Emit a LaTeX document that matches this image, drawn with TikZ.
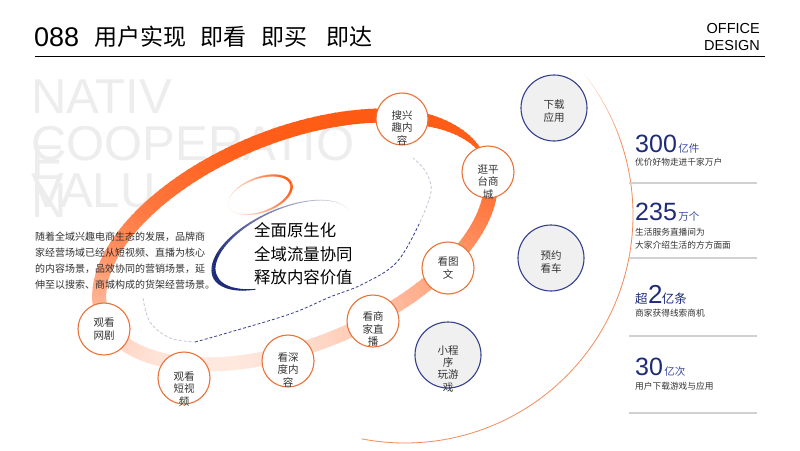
\documentclass[tikz,border=0pt]{standalone}
\usepackage{fontspec}
\setmainfont{Liberation Sans}
\newfontfamily\cjk{Noto Sans CJK SC}
\newfontfamily\arial{Liberation Sans}
\definecolor{bandc}{HTML}{FF5A14}
\definecolor{navy}{HTML}{1E2B7A}
\definecolor{navylt}{HTML}{3B4A9B}
\definecolor{nodeor}{HTML}{E8733A}
\definecolor{circblue}{HTML}{34408C}
\definecolor{wmc}{HTML}{EDEDED}
\definecolor{txt}{HTML}{333333}
\definecolor{arcor}{HTML}{F08A58}
\definecolor{dashgray}{HTML}{C2C6D6}
\definecolor{circfill}{HTML}{F0F0F0}
\tikzset{
  wmtext/.style={anchor=base west, inner sep=0, text=wmc, font=\arial\fontsize{49}{49}\selectfont},
  onode/.style={circle, draw=nodeor, line width=1.1pt, fill=white, minimum size=52pt, inner sep=0},
  bnode/.style={circle, draw=circblue, line width=1.1pt, fill=circfill, minimum size=66pt, inner sep=0},
  ntext/.style={font=\cjk\fontsize{10.5}{12.2}\selectfont, text=txt, align=center, inner sep=0},
  bignum/.style={anchor=base west, inner sep=0, text=navy, font=\arial\fontsize{25}{25}\selectfont},
  unit/.style={anchor=base west, inner sep=0, text=navylt, font=\cjk\fontsize{10.5}{12}\selectfont},
  desc/.style={anchor=base west, inner sep=0, text=txt, font=\cjk\fontsize{8.7}{12}\selectfont},
  sepline/.style={line width=1.5pt, draw=black!18},
}
\begin{document}
\begin{tikzpicture}[x=1pt,y=-1pt]
\useasboundingbox (0,0) rectangle (800,450);
\fill[white] (0,0) rectangle (800,450);

% watermark
\node[wmtext] (w1) at (31,113) {NATIV};
\node[wmtext] (w2) at (31,160) {COOPERATIO};
\node[wmtext] (w3) at (31,207) {VALU};
\node[wmtext] (w4) at (31,179) {E};
\node[wmtext] (w5) at (31,217) {N};

% big thin arc on the right
\begin{scope}
\clip (0,0) rectangle (800,450);
\foreach \a in {40,39,...,-100}{
  \pgfmathsetmacro{\xa}{405+228*cos(\a)}
  \pgfmathsetmacro{\ya}{215-228*sin(\a)}
  \pgfmathsetmacro{\xb}{405+228*cos(\a-1)}
  \pgfmathsetmacro{\yb}{215-228*sin(\a-1)}
  \pgfmathsetmacro{\op}{\a>=18 ? (40-\a)/22 : 1}
  \draw[line width=0.8pt, arcor, opacity=\op] (\xa,\ya) -- (\xb,\yb);
}
\end{scope}

% thick band (rotated ellipse)
\foreach \t in {0,2,...,358}{
  \pgfmathsetmacro{\xa}{295+207*cos(\t)*0.927-105*sin(\t)*0.375}
  \pgfmathsetmacro{\ya}{240-207*cos(\t)*0.375-105*sin(\t)*0.927}
  \pgfmathsetmacro{\tb}{\t+2.6}
  \pgfmathsetmacro{\xb}{295+207*cos(\tb)*0.927-105*sin(\tb)*0.375}
  \pgfmathsetmacro{\yb}{240-207*cos(\tb)*0.375-105*sin(\tb)*0.927}
  \pgfmathsetmacro{\sv}{max(0,min(1,(\ya-120)/245))}
  \pgfmathtruncatemacro{\pc}{100-86*\sv*sqrt(\sv)}
  \pgfmathsetmacro{\lw}{(\t>=6 && \t<=40) ? (3+11*(\t-6)/34) : 14}
  \draw[line width=\lw pt, bandc!\pc!white] (\xa,\ya) -- (\xb,\yb);
}

% dashed inner curve
\draw[dashgray, line width=0.8pt, dash pattern=on 3pt off 2pt]
  plot[smooth, tension=0.6] coordinates {(143,298) (150,322) (170,338) (195,342)};
\draw[circblue, line width=0.8pt, dash pattern=on 3pt off 2pt]
  plot[smooth, tension=0.6] coordinates {(195,342) (227,333) (290,314) (330,297) (363,284) (397,262) (420,222)};
\draw[dashgray, line width=0.8pt, dash pattern=on 3pt off 2pt]
  plot[smooth, tension=0.6] coordinates {(420,222) (431,192) (426,172) (413,158)};

% small orange swoosh ring
\foreach \t in {0,3,...,357}{
  \pgfmathsetmacro{\xa}{260+33*cos(\t)*0.94-17*sin(\t)*0.342}
  \pgfmathsetmacro{\ya}{195-33*cos(\t)*0.342-17*sin(\t)*0.94}
  \pgfmathsetmacro{\tb}{\t+3.5}
  \pgfmathsetmacro{\xb}{260+33*cos(\tb)*0.94-17*sin(\tb)*0.342}
  \pgfmathsetmacro{\yb}{195-33*cos(\tb)*0.342-17*sin(\tb)*0.94}
  \pgfmathsetmacro{\inten}{0.5+0.5*cos(\t)}
  \pgfmathtruncatemacro{\pc}{5+95*\inten}
  \pgfmathsetmacro{\lw}{0.5+2*\inten}
  \draw[line width=\lw pt, bandc!\pc!white] (\xa,\ya) -- (\xb,\yb);
}

% blue swoosh
\foreach \t in {0,3,...,232}{
  \pgfmathsetmacro{\xa}{283+75*cos(\t)*0.906-35*sin(\t)*0.423}
  \pgfmathsetmacro{\ya}{245-75*cos(\t)*0.423-35*sin(\t)*0.906}
  \pgfmathsetmacro{\tb}{\t+3.5}
  \pgfmathsetmacro{\xb}{283+75*cos(\tb)*0.906-35*sin(\tb)*0.423}
  \pgfmathsetmacro{\yb}{245-75*cos(\tb)*0.423-35*sin(\tb)*0.906}
  \pgfmathtruncatemacro{\pc}{min(100,\t/1.5)}
  \pgfmathsetmacro{\lw}{\t<=180 ? (0.4+4.2*(\t/180)*(\t/180)) : (0.6+4*(235-\t)/55)}
  \draw[line width=\lw pt, navy!\pc!white] (\xa,\ya) -- (\xb,\yb);
}

% center text
\node[anchor=west, align=left, font=\cjk\fontsize{16.4}{23.5}\selectfont, inner sep=0] (ctext) at (254,254) {全面原生化\\全域流量协同\\释放内容价值};

% left paragraph
\node[anchor=west, align=left, font=\cjk\fontsize{10}{16}\selectfont, text=txt, inner sep=0] (para) at (35,261) {随着全域兴趣电商生态的发展，品牌商\\家经营场域已经从短视频、直播为核心\\的内容场景，品效协同的营销场景，延\\伸至以搜索、商城构成的货架经营场景。};

% orange nodes
\node[onode] (n1) at (402,119) {};
\node[ntext] (l1) at ([yshift=-9pt]n1.center) {搜兴\\趣内\\容};
\node[onode] (n2) at (488,172) {};
\node[ntext] (l2) at ([yshift=-10pt]n2.center) {逛平\\台商\\城};
\node[onode] (n3) at (448,268) {};
\node[ntext] (l3) at (n3.center) {看图\\文};
\node[onode] (n4) at (373,321) {};
\node[ntext] (l4) at ([yshift=-8pt]n4.center) {看商\\家直\\播};
\node[onode] (n5) at (288,361) {};
\node[ntext] (l5) at ([yshift=-9pt]n5.center) {看深\\度内\\容};
\node[onode] (n6) at (184,378) {};
\node[ntext] (l6) at ([yshift=-11pt]n6.center) {观看\\短视\\频};
\node[onode] (n7) at (104,329) {};
\node[ntext] (l7) at (n7.center) {观看\\网剧};

% blue nodes
\node[bnode] (b1) at (554,108) {};
\node[ntext] (k1) at ([yshift=-3pt]b1.center) {下载\\应用};
\node[bnode] (b2) at (551,258) {};
\node[ntext] (k2) at ([yshift=-4pt]b2.center) {预约\\看车};
\node[bnode] (b3) at (448,355) {};
\node[ntext] (k3) at ([yshift=-14pt]b3.center) {小程\\序\\玩游\\戏};

% right stats
\node[bignum] (s1) at (635,152) {300};
\node[unit] (u1) at ([xshift=1pt]s1.base east) {亿件};
\node[desc] (d1) at (635,165) {优价好物走进千家万户};
\draw[sepline] (629,183) -- (757,183);

\node[bignum] (s2) at (635,220) {235};
\node[unit] (u2) at ([xshift=1pt]s2.base east) {万个};
\node[desc] (d2a) at (635,235) {生活服务直播间为};
\node[desc] (d2b) at (635,248) {大家介绍生活的方方面面};
\draw[sepline] (629,258) -- (757,258);

\node[unit, text=navy, font=\cjk\fontsize{12.5}{14}\selectfont] (s3a) at (635,303) {超};
\node[bignum, font=\arial\fontsize{26}{26}\selectfont] (s3) at (s3a.base east) {2};
\node[unit, text=navy, font=\cjk\fontsize{12.5}{14}\selectfont] (u3) at ([xshift=-1pt]s3.base east) {亿条};
\node[desc] (d3) at (635,316) {商家获得线索商机};
\draw[sepline] (629,336) -- (757,336);

\node[bignum] (s4) at (635,375) {30};
\node[unit] (u4) at ([xshift=1pt]s4.base east) {亿次};
\node[desc] (d4) at (635,389) {用户下载游戏与应用};
\draw[sepline] (629,413) -- (757,413);

% title
\node[anchor=base west, inner sep=0, font=\arial\fontsize{27}{27}\selectfont] (t0) at (34,46.5) {088};
\node[anchor=base west, inner sep=0, font=\cjk\fontsize{23}{23}\selectfont] (t1) at (94,45.5) {用户实现};
\node[anchor=base west, inner sep=0, font=\cjk\fontsize{23}{23}\selectfont] (t2) at (200,45.5) {即看};
\node[anchor=base west, inner sep=0, font=\cjk\fontsize{23}{23}\selectfont] (t3) at (261,45.5) {即买};
\node[anchor=base west, inner sep=0, font=\cjk\fontsize{23}{23}\selectfont] (t4) at (326,45.5) {即达};
\draw[line width=1pt] (35,56.5) -- (765,56.5);
\node[anchor=base east, inner sep=0, font=\arial\fontsize{14.5}{17}\selectfont] (o1) at (760,33) {OFFICE};
\node[anchor=base east, inner sep=0, font=\arial\fontsize{14.5}{17}\selectfont] (o2) at (760,50) {DESIGN};
\end{tikzpicture}
\end{document}
